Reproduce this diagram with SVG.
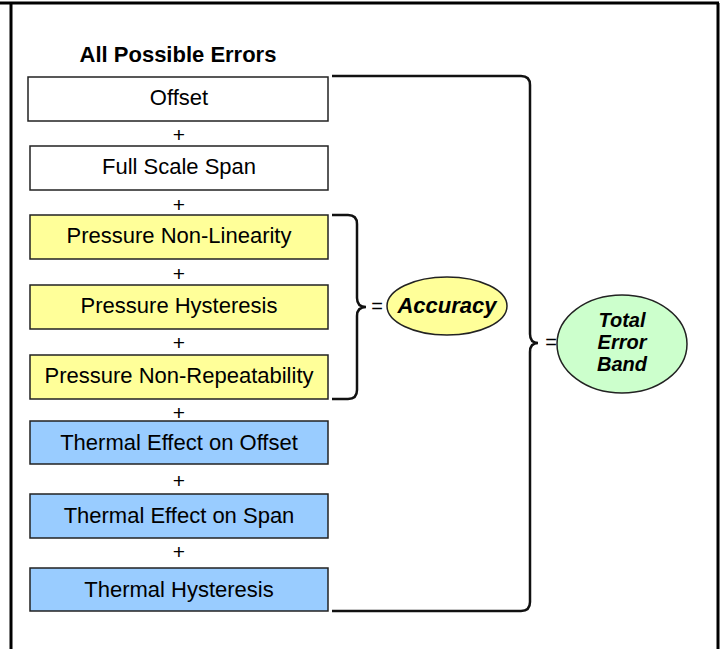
<svg xmlns="http://www.w3.org/2000/svg" width="720" height="649" viewBox="0 0 720 649">
<style>
.frame{stroke:#000;stroke-width:3;fill:none}
.box{stroke:#222;stroke-width:1.5}
.w{fill:#fff}.y{fill:#ffff99}.b{fill:#99ccff}.g{fill:#ccffcc}
.lbl{font-family:"Liberation Sans",Arial,sans-serif;font-size:22px;fill:#000;text-anchor:middle}
.plus{font-family:"Liberation Sans",Arial,sans-serif;font-size:21px;fill:#000;text-anchor:middle}
.title{font-family:"Liberation Sans",Arial,sans-serif;font-size:22px;font-weight:bold;fill:#000;text-anchor:middle}
.bi{font-family:"Liberation Sans",Arial,sans-serif;font-size:22px;font-weight:bold;font-style:italic;fill:#000;text-anchor:middle}
.bi2{font-family:"Liberation Sans",Arial,sans-serif;font-size:20px;font-weight:bold;font-style:italic;fill:#000;text-anchor:middle}
.brace{stroke:#111;stroke-width:2.5;fill:none}
.eq{font-family:"Liberation Sans",Arial,sans-serif;font-size:20px;fill:#000;text-anchor:middle}
</style>
<g id="frame">
<line class="frame" x1="0" y1="3" x2="719" y2="3"/>
<line class="frame" x1="11" y1="3" x2="11" y2="649"/>
<line class="frame" x1="718" y1="3" x2="718" y2="649"/>
</g>
<text class="title" x="178" y="62">All Possible Errors</text>
<g id="offset"><rect class="box w" x="28" y="77" width="300" height="44"/><text class="lbl" x="179" y="105">Offset</text></g>
<g id="fullscale"><rect class="box w" x="30" y="146" width="298" height="44"/><text class="lbl" x="179" y="174">Full Scale Span</text></g>
<g id="nonlinearity"><rect class="box y" x="30" y="215" width="298" height="44"/><text class="lbl" x="179" y="243">Pressure Non-Linearity</text></g>
<g id="hysteresis"><rect class="box y" x="30" y="285" width="298" height="44"/><text class="lbl" x="179" y="313">Pressure Hysteresis</text></g>
<g id="nonrepeat"><rect class="box y" x="30" y="355" width="298" height="44"/><text class="lbl" x="179" y="383">Pressure Non-Repeatability</text></g>
<g id="thermoffset"><rect class="box b" x="30" y="421" width="298" height="43"/><text class="lbl" x="179" y="450">Thermal Effect on Offset</text></g>
<g id="thermspan"><rect class="box b" x="30" y="494" width="298" height="44"/><text class="lbl" x="179" y="523">Thermal Effect on Span</text></g>
<g id="thermhyst"><rect class="box b" x="30" y="568" width="298" height="43"/><text class="lbl" x="179" y="597">Thermal Hysteresis</text></g>
<g id="plus">
<text class="plus" x="179" y="142">+</text>
<text class="plus" x="179" y="212">+</text>
<text class="plus" x="179" y="281">+</text>
<text class="plus" x="179" y="350">+</text>
<text class="plus" x="179" y="420">+</text>
<text class="plus" x="179" y="488">+</text>
<text class="plus" x="179" y="559">+</text>
</g>
<g id="connectors">
<path class="brace" d="M332 215 H348 Q357 215 357 224 V298 Q357 307 366 307 Q357 307 357 316 V390 Q357 399 348 399 H332"/>
<text class="eq" x="377" y="313">=</text>
<path class="brace" d="M332 76 H521 Q530 76 530 85 V334 Q530 343 538 343 Q530 343 530 352 V602 Q530 611 521 611 H332"/>
<text class="eq" x="551" y="349">=</text>
</g>
<g id="accuracy"><ellipse class="box y" cx="447" cy="306" rx="60" ry="29"/><text class="bi" x="447" y="313">Accuracy</text></g>
<g id="total"><ellipse class="box g" cx="622" cy="344" rx="65" ry="49"/>
<text class="bi2" x="622" y="327">Total<tspan x="622" dy="22">Error</tspan><tspan x="622" dy="22">Band</tspan></text></g>
</svg>
